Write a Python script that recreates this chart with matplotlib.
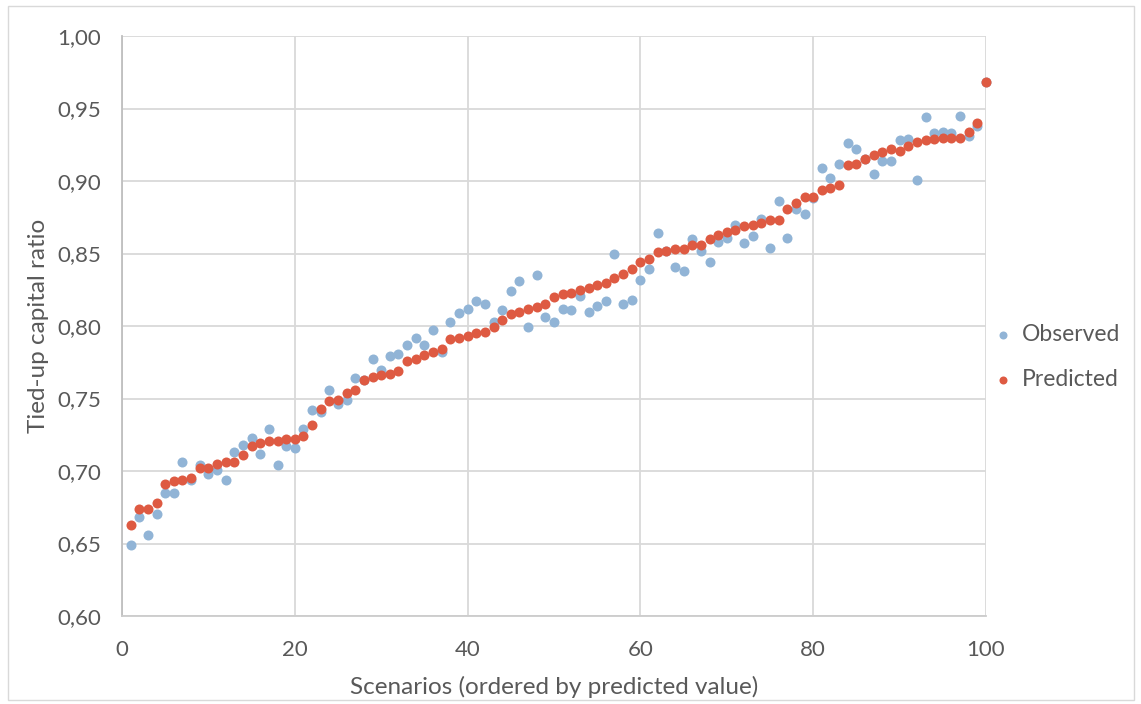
import matplotlib
matplotlib.use('Agg')
import matplotlib.pyplot as plt
from matplotlib.patches import Rectangle
from matplotlib.ticker import FuncFormatter

# scenario index, ordered by predicted value
scenarios = list(range(1, 101))

observed = [
    0.649, 0.668, 0.656, 0.670, 0.685, 0.685, 0.706, 0.694, 0.704, 0.698,
    0.701, 0.694, 0.713, 0.718, 0.723, 0.712, 0.729, 0.704, 0.717, 0.716,
    0.729, 0.742, 0.741, 0.756, 0.746, 0.749, 0.764, 0.763, 0.777, 0.770,
    0.779, 0.781, 0.787, 0.792, 0.787, 0.797, 0.782, 0.803, 0.809, 0.812,
    0.817, 0.815, 0.803, 0.811, 0.824, 0.831, 0.799, 0.835, 0.806, 0.803,
    0.812, 0.811, 0.821, 0.810, 0.814, 0.817, 0.850, 0.815, 0.818, 0.832,
    0.839, 0.864, 0.852, 0.841, 0.838, 0.860, 0.852, 0.844, 0.858, 0.861,
    0.870, 0.857, 0.862, 0.874, 0.854, 0.886, 0.861, 0.881, 0.877, 0.888,
    0.909, 0.902, 0.912, 0.926, 0.922, 0.915, 0.905, 0.914, 0.914, 0.928,
    0.929, 0.901, 0.944, 0.933, 0.934, 0.933, 0.945, 0.931, 0.938, 0.968,
]

predicted = [
    0.663, 0.674, 0.674, 0.678, 0.691, 0.693, 0.694, 0.695, 0.702, 0.702,
    0.705, 0.706, 0.706, 0.711, 0.717, 0.719, 0.721, 0.721, 0.722, 0.722,
    0.724, 0.732, 0.743, 0.748, 0.749, 0.754, 0.756, 0.763, 0.765, 0.766,
    0.767, 0.769, 0.776, 0.777, 0.780, 0.782, 0.784, 0.791, 0.792, 0.793,
    0.795, 0.796, 0.799, 0.804, 0.808, 0.810, 0.812, 0.813, 0.815, 0.820,
    0.822, 0.823, 0.825, 0.826, 0.828, 0.830, 0.833, 0.836, 0.839, 0.844,
    0.846, 0.851, 0.852, 0.853, 0.853, 0.856, 0.856, 0.860, 0.863, 0.865,
    0.866, 0.869, 0.870, 0.871, 0.873, 0.873, 0.881, 0.885, 0.889, 0.889,
    0.894, 0.895, 0.897, 0.911, 0.912, 0.915, 0.918, 0.920, 0.922, 0.921,
    0.924, 0.927, 0.928, 0.929, 0.930, 0.930, 0.930, 0.934, 0.940, 0.968,
]

x_ticks = [0, 20, 40, 60, 80, 100]
y_ticks = [0.60, 0.65, 0.70, 0.75, 0.80, 0.85, 0.90, 0.95, 1.00]

plt.rcParams['font.family'] = ['Lato', 'DejaVu Sans']
text_col = '#595959'
grid_col = '#d9d9d9'

fig = plt.figure(figsize=(11.41, 7.04), dpi=100)
ax = fig.add_axes([122 / 1141, 88 / 704, 864 / 1141, 580 / 704])

ax.scatter(scenarios, observed, s=52, color='#91b4d6', label='Observed',
           zorder=3, linewidths=0, clip_on=False)
ax.scatter(scenarios, predicted, s=52, color='#de5a42', label='Predicted',
           zorder=4, linewidths=0, clip_on=False)

ax.set_xlim(0, 100)
ax.set_ylim(0.60, 1.00)
ax.set_xticks(x_ticks)
ax.set_yticks(y_ticks)
ax.yaxis.set_major_formatter(FuncFormatter(lambda v, p: f'{v:.2f}'.replace('.', ',')))
ax.tick_params(length=0, labelsize=16, colors=text_col)
ax.tick_params(axis='y', pad=15)
ax.tick_params(axis='x', pad=17)

ax.grid(True, color=grid_col, linewidth=1.3, zorder=0)
ax.set_axisbelow(True)
for side in ['top', 'right']:
    ax.spines[side].set_visible(False)
ax.spines['left'].set_color('#bfbfbf')
ax.spines['left'].set_linewidth(1.3)
ax.spines['bottom'].set_color('#cccccc')
ax.spines['bottom'].set_linewidth(1.3)

ax.set_xlabel('Scenarios (ordered by predicted value)', fontsize=17.5, color=text_col, labelpad=12)
ax.set_ylabel('Tied-up capital ratio', fontsize=17.5, color=text_col, labelpad=6)

ax.legend(loc='center left', bbox_to_anchor=(993 / 1141, 1 - 357 / 704),
          bbox_transform=fig.transFigure, frameon=False, fontsize=16.5,
          labelcolor=text_col, handlelength=0.9, handletextpad=0.35,
          labelspacing=1.05, markerscale=0.8, borderaxespad=0, borderpad=0)

# thin chart-area border
fig.patches.append(Rectangle((8 / 1141, 4 / 704), 1126 / 1141, 694 / 704,
                             transform=fig.transFigure, fill=False,
                             edgecolor='#d9d9d9', linewidth=1))

fig.savefig('out.png', dpi=100)
